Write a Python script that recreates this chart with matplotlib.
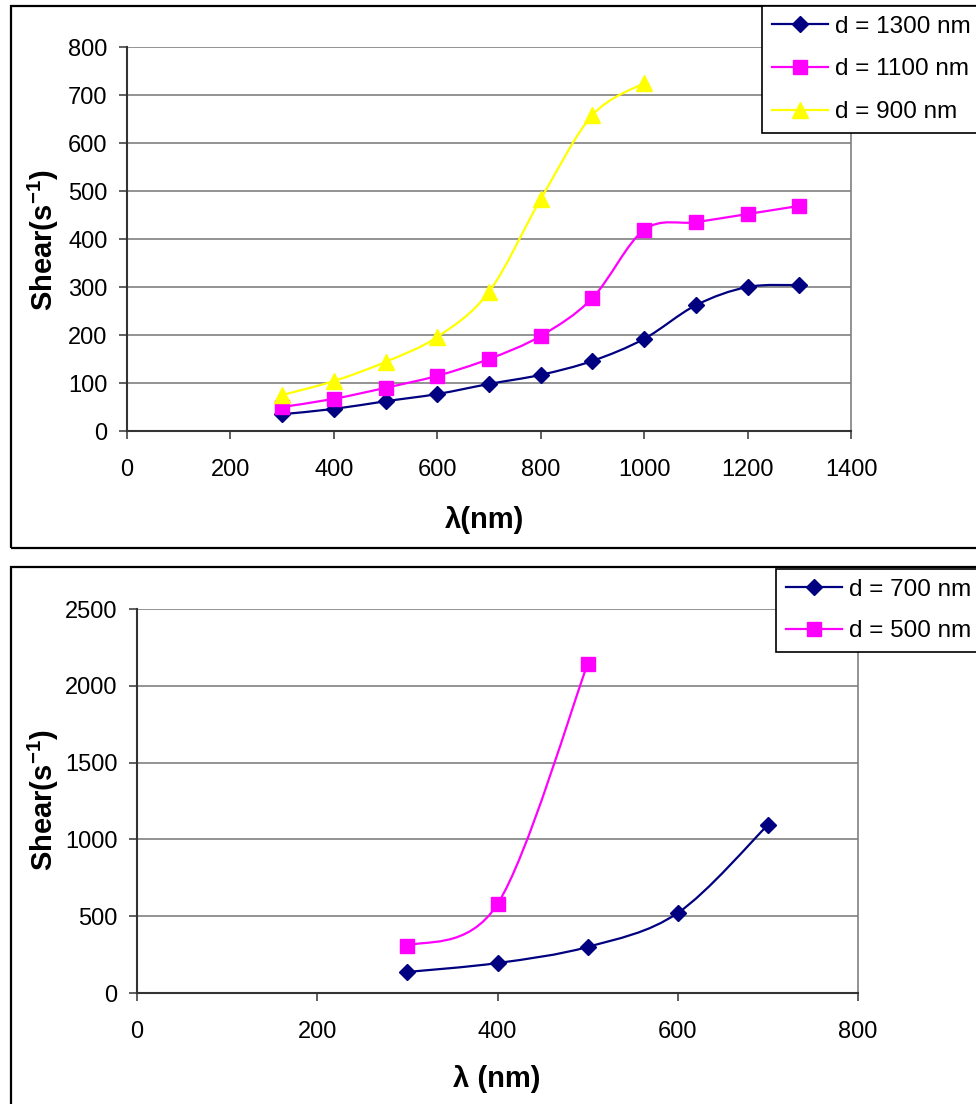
import matplotlib
matplotlib.use("Agg")
import matplotlib.pyplot as plt
from matplotlib.path import Path
from matplotlib.patches import PathPatch, Rectangle
from matplotlib.lines import Line2D
import numpy as np

plt.rcParams['font.family'] = ['Liberation Sans', 'DejaVu Sans']
plt.rcParams['mathtext.fontset'] = 'custom'
plt.rcParams['mathtext.rm'] = 'Liberation Sans'
plt.rcParams['mathtext.bf'] = 'Liberation Sans:bold'

# ---------------- data ----------------
top_x_1300 = [300, 400, 500, 600, 700, 800, 900, 1000, 1100, 1200, 1300]
top_y_1300 = [35, 46, 62, 77, 98, 117, 146, 192, 262, 300, 304]
top_x_1100 = [300, 400, 500, 600, 700, 800, 900, 1000, 1100, 1200, 1300]
top_y_1100 = [50, 67, 90, 115, 150, 198, 277, 419, 435, 452, 469]
top_x_900 = [300, 400, 500, 600, 700, 800, 900, 1000]
top_y_900 = [75, 104, 144, 196, 290, 483, 658, 725]
top_labels = ["d = 1300 nm", "d = 1100 nm", "d = 900 nm"]

bot_x_700 = [300, 400, 500, 600, 700]
bot_y_700 = [137, 195, 300, 521, 1094]
bot_x_500 = [300, 400, 500]
bot_y_500 = [306, 579, 2142]
bot_labels = ["d = 700 nm", "d = 500 nm"]

NAVY = "#000080"
MAGENTA = "#FF00FF"
YELLOW = "#FFFF00"

TICK_FS = 17
LEG_FS = 17.5
LAB_FS = 21

W, H = 976, 1104
fig = plt.figure(figsize=(W / 100, H / 100), dpi=100)


def fx(px):
    return px / W


def fy(py):
    return 1 - py / H


def smooth_path(x, y):
    """Excel-style smoothed line: cubic Bezier through the points."""
    p = np.column_stack([x, y]).astype(float)
    n = len(p)
    verts = [p[0]]
    codes = [Path.MOVETO]
    for i in range(n - 1):
        p0 = p[i - 1] if i > 0 else p[i]
        p1 = p[i]
        p2 = p[i + 1]
        p3 = p[i + 2] if i + 2 < n else p[i + 1]
        c1 = p1 + (p2 - p0) / 6.0
        c2 = p2 - (p3 - p1) / 6.0
        verts += [c1, c2, p2]
        codes += [Path.CURVE4] * 3
    return Path(verts, codes)


def draw_series(ax, x, y, color, marker, ms):
    patch = PathPatch(smooth_path(x, y), facecolor='none', edgecolor=color,
                      lw=1.6, zorder=3)
    ax.add_patch(patch)
    ax.plot(x, y, linestyle='none', marker=marker, ms=ms, color=color,
            markeredgecolor=color, zorder=4, clip_on=False)


def style_axes(ax, xlim, xticks, ylim, yticks):
    ax.set_xlim(*xlim)
    ax.set_ylim(*ylim)
    ax.set_xticks(xticks)
    ax.set_yticks(yticks)
    ax.yaxis.grid(True, color='#808080', lw=1.2)
    ax.set_axisbelow(True)
    for s in ['top', 'right']:
        ax.spines[s].set_color('#808080')
        ax.spines[s].set_linewidth(1.2)
    for s in ['left', 'bottom']:
        ax.spines[s].set_color('#333333')
        ax.spines[s].set_linewidth(1.5)
    ax.spines['top'].set_visible(False)
    ax.tick_params(axis='both', direction='out', length=6, width=1.2,
                   color='#444444', labelsize=TICK_FS, labelcolor='black')
    ax.tick_params(axis='y', pad=8)
    ax.tick_params(axis='x', pad=14)


# panel borders
for (y0, y1) in [(6, 548), (567, 1110)]:
    fig.patches.append(Rectangle((fx(11), fy(y1)), fx(1000) - fx(11), fy(y0) - fy(y1),
                                 transform=fig.transFigure, fill=False,
                                 edgecolor='black', lw=1.6, zorder=0))

# ---------------- top chart ----------------
ax1 = fig.add_axes([fx(127), fy(431), fx(851) - fx(127), fy(47) - fy(431)])
style_axes(ax1, (0, 1400), range(0, 1401, 200), (0, 800), range(0, 801, 100))
draw_series(ax1, top_x_1300, top_y_1300, NAVY, 'D', 8)
draw_series(ax1, top_x_1100, top_y_1100, MAGENTA, 's', 9.5)
draw_series(ax1, top_x_900, top_y_900, YELLOW, '^', 11)

fig.text(fx(43), fy(240), r'Shear(s$^{\mathbf{-1}}$)', rotation=90, ha='center',
         va='center', fontsize=LAB_FS, fontweight='bold')
fig.text(fx(485), fy(520), 'λ(nm)', ha='center', va='center', fontsize=LAB_FS,
         fontweight='bold')

h1 = [Line2D([], [], color=NAVY, marker='D', ms=8, lw=1.6),
      Line2D([], [], color=MAGENTA, marker='s', ms=9.5, lw=1.6),
      Line2D([], [], color=YELLOW, marker='^', ms=11, lw=1.6)]
leg1 = fig.legend(h1, top_labels, loc='upper left',
                  bbox_to_anchor=(fx(762), fy(6)), bbox_transform=fig.transFigure,
                  fontsize=LEG_FS, frameon=True, fancybox=False, edgecolor='black',
                  framealpha=1, borderaxespad=0, handlelength=2.3,
                  handletextpad=0.3, labelspacing=0.85, borderpad=0.4)
leg1.get_frame().set_linewidth(1.2)

# ---------------- bottom chart ----------------
ax2 = fig.add_axes([fx(137), fy(993), fx(858) - fx(137), fy(609) - fy(993)])
style_axes(ax2, (0, 800), range(0, 801, 200), (0, 2500), range(0, 2501, 500))
draw_series(ax2, bot_x_700, bot_y_700, NAVY, 'D', 8)
draw_series(ax2, bot_x_500, bot_y_500, MAGENTA, 's', 9.5)

fig.text(fx(43), fy(800), r'Shear(s$^{\mathbf{-1}}$)', rotation=90, ha='center',
         va='center', fontsize=LAB_FS, fontweight='bold')
fig.text(fx(497), fy(1079), 'λ (nm)', ha='center', va='center', fontsize=LAB_FS,
         fontweight='bold')

h2 = [Line2D([], [], color=NAVY, marker='D', ms=8, lw=1.6),
      Line2D([], [], color=MAGENTA, marker='s', ms=9.5, lw=1.6)]
leg2 = fig.legend(h2, bot_labels, loc='upper left',
                  bbox_to_anchor=(fx(776), fy(569)), bbox_transform=fig.transFigure,
                  fontsize=LEG_FS, frameon=True, fancybox=False, edgecolor='black',
                  framealpha=1, borderaxespad=0, handlelength=2.3,
                  handletextpad=0.3, labelspacing=0.8, borderpad=0.4)
leg2.get_frame().set_linewidth(1.2)

fig.savefig("out.png", dpi=100)
